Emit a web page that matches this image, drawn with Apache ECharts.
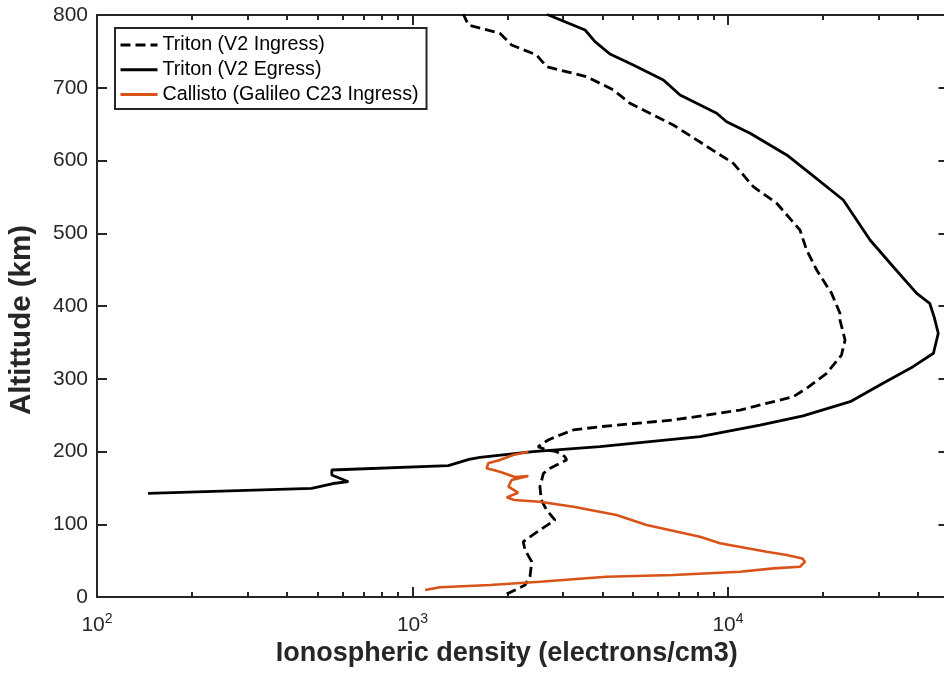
<!DOCTYPE html>
<html>
<head>
<meta charset="utf-8">
<script src="https://cdn.jsdelivr.net/npm/echarts@6/dist/echarts.min.js"></script>
<style>
html,body{margin:0;padding:0;background:#fff;}
#chart{width:944px;height:673px;}
</style>
</head>
<body>
<div id="chart"></div>
<script>
// ---- Data (density in electrons/cm3, altitude in km) ----
const seriesNames = ['Triton (V2 Ingress)', 'Triton (V2 Egress)', 'Callisto (Galileo C23 Ingress)'];

const ingressDensity = [1990, 2274, 2357, 2388, 2274, 2244, 2535, 2830, 2662, 2560, 2535, 2600, 2731, 3080, 3040, 2864, 2662, 2500,
  2692, 2937, 3235, 3925, 6710, 10920, 16100, 17750, 20550, 22900, 23500, 22640, 22640, 21300, 19100, 17750, 16910,
  14270, 12030, 10400, 6710, 4890, 4330, 3565, 2662, 2474, 2061, 1892, 1503, 1449];
const ingressAltitude = [4, 16.5, 27.9, 48.5, 64.6, 76, 92.1, 105.8, 119.6, 133.3, 151.6, 170, 176.9, 188.3, 192.9, 199.7, 202, 206.6,
  215.8, 222.7, 229.6, 234.1, 243.3, 257, 275.3, 286.9, 307.5, 332.6, 353.3, 380.8, 390, 417.4, 449.5, 477, 504.5,
  541.2, 564, 596.1, 648.8, 678.6, 697, 715.2, 728.9, 745, 758.8, 774.8, 786.3, 801];

const egressDensity = [145, 479, 560, 626, 555, 555, 1299, 1510, 1637, 2410, 3925, 8150, 12630, 17300, 24400, 31000, 38600,
  44800, 46400, 45000, 43600, 39650, 33400, 28200, 23200, 18200, 15350, 11750, 9900, 9210, 7050, 6240, 5010, 4225,
  3788, 3524, 2662];
const egressAltitude = [142.5, 149.4, 156, 158.5, 167.7, 174.6, 180.5, 189.2, 192, 199.7, 206.6, 220.4, 236.4, 249, 268.5, 293.7, 316.6,
  335, 362.5, 385.3, 403.7, 417.4, 454, 490.7, 545.7, 582.4, 607.6, 637.4, 653.3, 664.9, 690, 710.7, 731.3, 746.4,
  763.3, 779.4, 801];

const callistoDensity = [1097, 1222, 1762, 2535, 4120, 6710, 10920, 13940, 16910, 17540, 17200, 15350, 13260, 9430, 8150, 5520,
  4435, 3235, 2535, 2100, 1989, 2162, 2014, 2061, 2329, 2110, 1892, 1718, 1738, 1892, 2084, 2329];
const callistoAltitude = [9.6, 13.3, 16.5, 21, 27.9, 30.2, 34.8, 39.4, 41.6, 48.5, 53, 57.7, 62.3, 73.8, 82.9, 99,
  112.7, 124.1, 131, 133.3, 137, 143.4, 151.6, 160.8, 166.3, 165, 172.2, 176.9, 183.8, 188.3, 195.2, 199.7];

const xMajorTicks = [100, 1000, 10000];
const xMinorTicks = [200, 300, 400, 500, 600, 700, 800, 900, 2000, 3000, 4000, 5000, 6000, 7000, 8000, 9000, 20000, 30000, 40000];
const xRange = [100, 50000];
const yRange = [0, 800];
const yStep = 100;

// ---- Chart ----
const pairs = (xs, ys) => xs.map((x, i) => [x, ys[i]]);
const AX = '#262626';
const FONT = '"Liberation Sans", Arial, Helvetica, sans-serif';

const baseX = (extra) => Object.assign({
  type: 'log', logBase: 10, min: xRange[0], max: xRange[1], gridIndex: 0,
  splitLine: { show: false }, axisLabel: { show: false },
  axisLine: { show: false, onZero: false }, axisTick: { show: false }
}, extra);

const chart = echarts.init(document.getElementById('chart'), null, { renderer: 'canvas' });
chart.setOption({
  animation: false,
  backgroundColor: '#ffffff',
  grid: { left: 97, top: 15, width: 851.5, height: 582, outerBoundsMode: 'none', containLabel: false },
  legend: {
    orient: 'vertical', left: 115, top: 28,
    padding: [7, 8, 4.5, 4], itemGap: 4.7, itemWidth: 37, itemHeight: 14,
    backgroundColor: '#ffffff', borderColor: AX, borderWidth: 2, borderRadius: 0,
    itemStyle: { opacity: 0 },
    lineStyle: { width: 3 },
    textStyle: { fontSize: 19.7, color: '#000', fontFamily: FONT },
    data: seriesNames
  },
  xAxis: [
    baseX({
      position: 'bottom',
      name: 'Ionospheric density (electrons/cm3)', nameLocation: 'middle', nameGap: 40,
      nameTextStyle: { fontSize: 27, fontWeight: 'bold', color: AX, fontFamily: FONT, padding: [0, 32, 0, 0] },
      axisLine: { show: true, onZero: false, lineStyle: { color: AX, width: 2 } },
      axisTick: { show: true, inside: true, length: 10, customValues: xMajorTicks, lineStyle: { color: AX, width: 2 } },
      axisLabel: {
        show: true, customValues: xMajorTicks, margin: 15,
        formatter: v => '{b|10}{s|' + Math.round(Math.log10(v)) + '}',
        rich: {
          b: { fontSize: 21, color: AX, fontFamily: FONT },
          s: { fontSize: 14, color: AX, fontFamily: FONT, padding: [0, 0, 12, 0] }
        }
      }
    }),
    baseX({
      position: 'bottom',
      axisTick: { show: true, inside: true, length: 5, customValues: xMinorTicks, lineStyle: { color: AX, width: 2 } }
    }),
    baseX({
      position: 'top',
      axisLine: { show: true, onZero: false, lineStyle: { color: AX, width: 2 } },
      axisTick: { show: true, inside: true, length: 10, customValues: xMajorTicks, lineStyle: { color: AX, width: 2 } }
    }),
    baseX({
      position: 'top',
      axisTick: { show: true, inside: true, length: 5, customValues: xMinorTicks, lineStyle: { color: AX, width: 2 } }
    })
  ],
  yAxis: [
    {
      type: 'value', min: yRange[0], max: yRange[1], interval: yStep, position: 'left', gridIndex: 0,
      name: 'Altittude (km)', nameLocation: 'middle', nameGap: 60,
      nameTextStyle: { fontSize: 29.5, fontWeight: 'bold', color: AX, fontFamily: FONT, padding: [0, 28, 0, 0] },
      splitLine: { show: false },
      axisLine: { show: true, onZero: false, lineStyle: { color: AX, width: 2 } },
      axisTick: { show: true, inside: true, length: 10, lineStyle: { color: AX, width: 2 } },
      axisLabel: { fontSize: 21, color: AX, fontFamily: FONT, margin: 9 }
    },
    {
      type: 'value', min: yRange[0], max: yRange[1], interval: yStep, position: 'right', gridIndex: 0,
      splitLine: { show: false },
      axisLine: { show: true, onZero: false, lineStyle: { color: AX, width: 2 } },
      axisTick: { show: true, inside: true, length: 10, lineStyle: { color: AX, width: 2 } },
      axisLabel: { show: false }
    }
  ],
  series: [
    {
      name: seriesNames[0], type: 'line', xAxisIndex: 0, yAxisIndex: 0, symbol: 'none', smooth: false,
      lineStyle: { color: '#000000', width: 2.8, type: [10, 5] }, itemStyle: { color: '#000000' },
      data: pairs(ingressDensity, ingressAltitude)
    },
    {
      name: seriesNames[1], type: 'line', xAxisIndex: 0, yAxisIndex: 0, symbol: 'none', smooth: false,
      lineStyle: { color: '#000000', width: 2.8 }, itemStyle: { color: '#000000' },
      data: pairs(egressDensity, egressAltitude)
    },
    {
      name: seriesNames[2], type: 'line', xAxisIndex: 0, yAxisIndex: 0, symbol: 'none', smooth: false,
      lineStyle: { color: '#D95319', width: 2.6 }, itemStyle: { color: '#D95319' },
      data: pairs(callistoDensity, callistoAltitude)
    }
  ]
});
</script>
</body>
</html>
